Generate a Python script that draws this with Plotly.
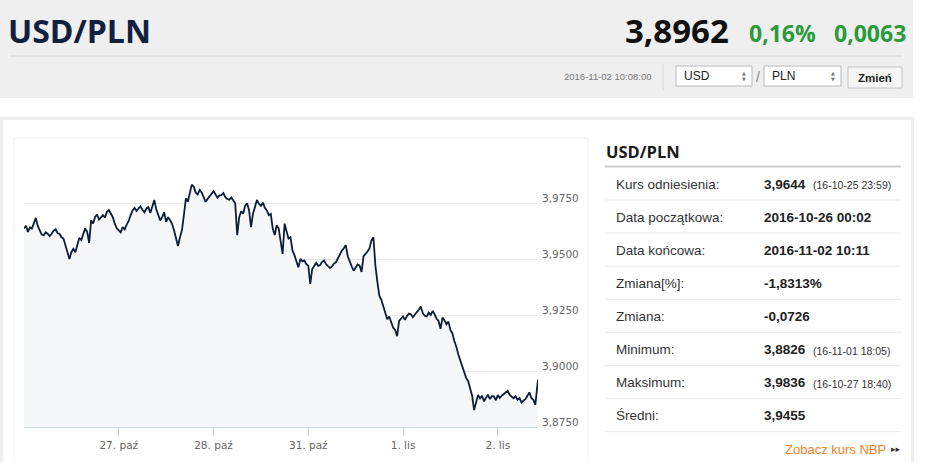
import pandas as pd
import plotly.graph_objects as go

# USD/PLN kurs, probki co 30 min (odczyt z wykresu)
oct26 = [3.9639, 3.9652, 3.9624, 3.9645, 3.9639, 3.9668, 3.9687, 3.9650,
         3.9631, 3.9612, 3.9609, 3.9622, 3.9616, 3.9605, 3.9616, 3.9630,
         3.9636, 3.9618, 3.9616, 3.9600, 3.9594, 3.9560, 3.9526, 3.9503,
         3.9533, 3.9548, 3.9533, 3.9571, 3.9597, 3.9588, 3.9616, 3.9640,
         3.9624, 3.9575, 3.9676, 3.9662, 3.9691, 3.9702, 3.9679, 3.9690,
         3.9699, 3.9688, 3.9714, 3.9722, 3.9706, 3.9690, 3.9661, 3.9640]
oct27 = [3.9631, 3.9622, 3.9646, 3.9635, 3.9657, 3.9672, 3.9699, 3.9720,
         3.9732, 3.9718, 3.9729, 3.9738, 3.9723, 3.9712, 3.9729, 3.9735,
         3.9709, 3.9738, 3.9767, 3.9725, 3.9699, 3.9675, 3.9691, 3.9712,
         3.9669, 3.9690, 3.9676, 3.9660, 3.9631, 3.9600, 3.9561, 3.9600,
         3.9631, 3.9700, 3.9774, 3.9760, 3.9807, 3.9836, 3.9827, 3.9800,
         3.9792, 3.9812, 3.9801, 3.9780, 3.9759, 3.9772, 3.9782, 3.9795]
oct28 = [3.9807, 3.9790, 3.9777, 3.9788, 3.9789, 3.9798, 3.9780, 3.9772,
         3.9768, 3.9778, 3.9765, 3.9752, 3.9609, 3.9690, 3.9717, 3.9705,
         3.9741, 3.9752, 3.9721, 3.9645, 3.9706, 3.9740, 3.9767, 3.9750,
         3.9741, 3.9755, 3.9732, 3.9720, 3.9699, 3.9705, 3.9639, 3.9610,
         3.9654, 3.9640, 3.9586, 3.9525, 3.9661, 3.9630, 3.9594, 3.9600,
         3.9541, 3.9520, 3.9488, 3.9465, 3.9503, 3.9492, 3.9496, 3.9480]
oct31 = [3.9473, 3.9391, 3.9458, 3.9470, 3.9485, 3.9472, 3.9476, 3.9490,
         3.9496, 3.9480, 3.9473, 3.9462, 3.9470, 3.9482, 3.9488, 3.9505,
         3.9526, 3.9540, 3.9551, 3.9565, 3.9515, 3.9490, 3.9470, 3.9450,
         3.9466, 3.9478, 3.9473, 3.9445, 3.9515, 3.9525, 3.9536, 3.9550,
         3.9586, 3.9600, 3.9473, 3.9400, 3.9338, 3.9320, 3.9293, 3.9270,
         3.9233, 3.9245, 3.9215, 3.9195, 3.9185, 3.9157, 3.9225, 3.9235]
nov01 = [3.9245, 3.9230, 3.9248, 3.9258, 3.9255, 3.9242, 3.9255, 3.9265,
         3.9275, 3.9290, 3.9260, 3.9248, 3.9245, 3.9262, 3.9251, 3.9270,
         3.9255, 3.9235, 3.9225, 3.9190, 3.9240, 3.9228, 3.9210, 3.9222,
         3.9185, 3.9170, 3.9135, 3.9110, 3.9075, 3.9050, 3.9022, 3.8995,
         3.8969, 3.8955, 3.8924, 3.8890, 3.8826, 3.8860, 3.8894, 3.8878,
         3.8890, 3.8865, 3.8884, 3.8895, 3.8875, 3.8888, 3.8887, 3.8870]
nov02 = [3.8893, 3.8880, 3.8890, 3.8898, 3.8905, 3.8912, 3.8894, 3.8885,
         3.8879, 3.8888, 3.8872, 3.8880, 3.8860, 3.8868, 3.8875, 3.8890,
         3.8905, 3.8880, 3.8872, 3.8849, 3.8932]
last_time = "2016-11-02 10:11"
last_value = 3.8962

days = {"2016-10-26": oct26, "2016-10-27": oct27, "2016-10-28": oct28,
        "2016-10-31": oct31, "2016-11-01": nov01, "2016-11-02": nov02}

tick_dates = ["2016-10-27", "2016-10-28", "2016-10-31", "2016-11-01", "2016-11-02"]
tick_text = ["27. paź", "28. paź", "31. paź", "1. lis", "2. lis"]
y_ticks = [3.875, 3.900, 3.925, 3.950, 3.975, 4.000]
y_tick_text = ["3,8750", "3,9000", "3,9250", "3,9500", "3,9750", ""]

row_labels = ["Kurs odniesienia:", "Data początkowa:", "Data końcowa:", "Zmiana[%]:",
              "Zmiana:", "Minimum:", "Maksimum:", "Średni:"]
row_values = ["3,9644", "2016-10-26 00:02", "2016-11-02 10:11", "-1,8313%",
              "-0,0726", "3,8826", "3,9836", "3,9455"]
row_notes = ["(16-10-25 23:59)", "", "", "", "", "(16-11-01 18:05)", "(16-10-27 18:40)", ""]

W, H = 945, 462


def px(x):
    return x / W


def py(y):
    return 1 - y / H


times, values = [], []
for day, vals in days.items():
    times += list(pd.date_range(day, periods=len(vals), freq="30min"))
    values += vals
times.append(pd.Timestamp(last_time))
values.append(last_value)

fig = go.Figure()
fig.add_trace(go.Scatter(x=times, y=values, mode="lines", fill="tozeroy",
                         fillcolor="#f6f7f9", line=dict(color="#0d1d38", width=1.8),
                         hoverinfo="skip", showlegend=False))

fig.update_layout(
    width=W, height=H, margin=dict(l=0, r=0, t=0, b=0),
    paper_bgcolor="white", plot_bgcolor="white", showlegend=False, hovermode=False,
    xaxis=dict(domain=[px(24), px(538)], type="date",
               range=["2016-10-26 00:00", last_time],
               rangebreaks=[dict(bounds=["sat", "mon"])],
               tickvals=tick_dates, ticktext=tick_text, showgrid=False,
               showline=True, linecolor="#ccd6eb", ticks="outside", ticklen=8,
               tickcolor="#ccd6eb", tickfont=dict(family="DejaVu Sans", size=10.5, color="#666666"),
               fixedrange=True),
    yaxis=dict(domain=[py(427), py(148)], range=[3.875, 4.0], side="right",
               tickvals=y_ticks, ticktext=y_tick_text, showgrid=True,
               gridcolor="#e6e6e6", zeroline=False, ticks="", ticklabelstandoff=3,
               ticklabelshift=-5,
               tickfont=dict(family="DejaVu Sans", size=10.5, color="#666666"),
               fixedrange=True),
)

shapes = [
    # naglowek
    dict(type="rect", x0=px(0), x1=px(913), y0=py(0), y1=py(98), fillcolor="#efefef", line_width=0),
    dict(type="line", x0=px(10), x1=px(902), y0=py(56), y1=py(56), line=dict(color="#d8d8d8", width=1)),
    dict(type="line", x0=px(663), x1=px(663), y0=py(64), y1=py(91), line=dict(color="#d8d8d8", width=1)),
    dict(type="rect", x0=px(676), x1=px(752), y0=py(66), y1=py(86), fillcolor="white",
         line=dict(color="#b8b8b8", width=1)),
    dict(type="rect", x0=px(764), x1=px(841), y0=py(66), y1=py(86), fillcolor="white",
         line=dict(color="#b8b8b8", width=1)),
    dict(type="rect", x0=px(848), x1=px(902), y0=py(67), y1=py(88), fillcolor="#f6f6f6",
         line=dict(color="#c4c4c4", width=1)),
    # ramka panelu
    dict(type="rect", x0=px(0), x1=px(915), y0=py(117), y1=py(120), fillcolor="#efefef", line_width=0),
    dict(type="rect", x0=px(0), x1=px(3), y0=py(117), y1=py(462), fillcolor="#efefef", line_width=0),
    dict(type="rect", x0=px(911), x1=px(914), y0=py(117), y1=py(462), fillcolor="#efefef", line_width=0),
    dict(type="path", path=f"M {px(14)} {py(462)} L {px(14)} {py(138)} L {px(588)} {py(138)} L {px(588)} {py(462)}",
         xref="paper", yref="paper", line=dict(color="#eeeeee", width=1)),
    # tabela
    dict(type="line", x0=px(605), x1=px(901), y0=py(166.5), y1=py(166.5), line=dict(color="#cccccc", width=2)),
]
for i in range(len(row_labels)):
    y = 200 + 33.1 * i
    shapes.append(dict(type="line", x0=px(605), x1=px(901), y0=py(y), y1=py(y),
                       line=dict(color="#ececec", width=1)))
for s in shapes:
    s.setdefault("xref", "paper")
    s.setdefault("yref", "paper")
    s["layer"] = "below"
fig.update_layout(shapes=shapes)

ann = []


def text(x, y, t, size, color, family="Liberation Sans", anchor="left", bold=False):
    if bold:
        t = f"<b>{t}</b>"
    ann.append(dict(x=px(x), y=py(y), xref="paper", yref="paper", text=t, showarrow=False,
                    xanchor=anchor, yanchor="middle",
                    font=dict(family=family, size=size, color=color)))


text(6, 30, "USD/PLN", 32, "#10203f", family="Open Sans", bold=True)
text(731, 30, "3,8962", 33, "#111111", family="Open Sans", anchor="right", bold=True)
text(818, 33, "0,16%", 23, "#2a9a3c", family="Open Sans", anchor="right", bold=True)
text(908, 33, "0,0063", 23, "#2a9a3c", family="Open Sans", anchor="right", bold=True)
text(654, 77, "2016-11-02 10:08:00", 9.5, "#777777", anchor="right")
text(682, 76, "USD", 12, "#222222")
text(770, 76, "PLN", 12, "#222222")
text(758, 77, "/", 14, "#888888", anchor="center")
for xa in (744, 833):
    text(xa, 73, "▲", 5, "#777777", family="DejaVu Sans", anchor="center")
    text(xa, 79, "▼", 5, "#777777", family="DejaVu Sans", anchor="center")
text(875, 78, "Zmień", 11.5, "#222222", anchor="center", bold=True)

text(604, 151, "USD/PLN", 16.5, "#1a1a1a", family="Open Sans", bold=True)
for i, (lab, val, note) in enumerate(zip(row_labels, row_values, row_notes)):
    y = 184 + 33.1 * i
    text(614, y, lab, 13.5, "#333333")
    text(762, y, val, 13.5, "#222222", bold=True)
    if note:
        text(811, y + 1, note, 10.5, "#333333")
text(888, 449, "Zobacz kurs NBP", 13, "#f5821f", anchor="right")
text(896, 449, "▸▸", 9, "#333333", family="DejaVu Sans", anchor="center")

fig.update_layout(annotations=ann)
fig.write_html("out.html", config={"displayModeBar": False},
               post_script="document.body.style.margin='0px';")
